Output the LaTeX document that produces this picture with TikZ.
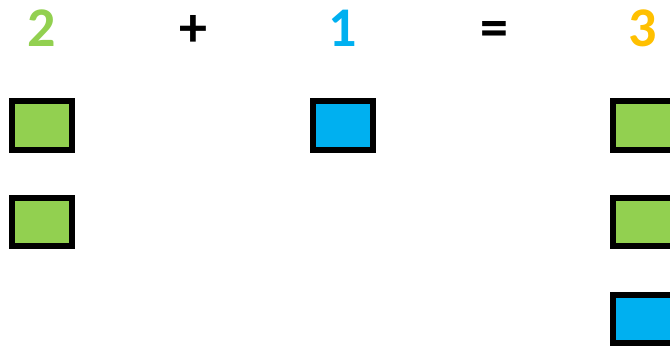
\documentclass[tikz,border=0pt]{standalone}
\usepackage{fontspec}
\setmainfont{Carlito}
\definecolor{cgreen}{HTML}{92D050}
\definecolor{cblue}{HTML}{00B0F0}
\definecolor{corange}{HTML}{FFC000}
\begin{document}
\begin{tikzpicture}[x=1pt,y=-1pt,
  sym/.style={font=\fontsize{56}{60}\selectfont\bfseries, inner sep=0pt, anchor=base},
  gbox/.style={draw=black, line width=6pt, fill=cgreen},
  bbox/.style={draw=black, line width=6pt, fill=cblue}]
\useasboundingbox (0,0) rectangle (670,346);
\clip (0,0) rectangle (670,346);
\node[sym, text=cgreen] (two) at (42,46) {2};
\node[sym] (plus) at (193,46) {+};
\node[sym, text=cblue] (one) at (343,46) {1};
\node[sym] (eq) at (494,46) {=};
\node[sym, text=corange] (three) at (643,46) {3};
\draw[gbox] (12,101) rectangle (72,149.5);
\draw[gbox] (12,198) rectangle (72,245.5);
\draw[bbox] (313,101) rectangle (373,149.5);
\draw[gbox] (613,101) rectangle (680,149.5);
\draw[gbox] (613,198) rectangle (680,246);
\draw[bbox] (613,295) rectangle (680,343);
\end{tikzpicture}
\end{document}
